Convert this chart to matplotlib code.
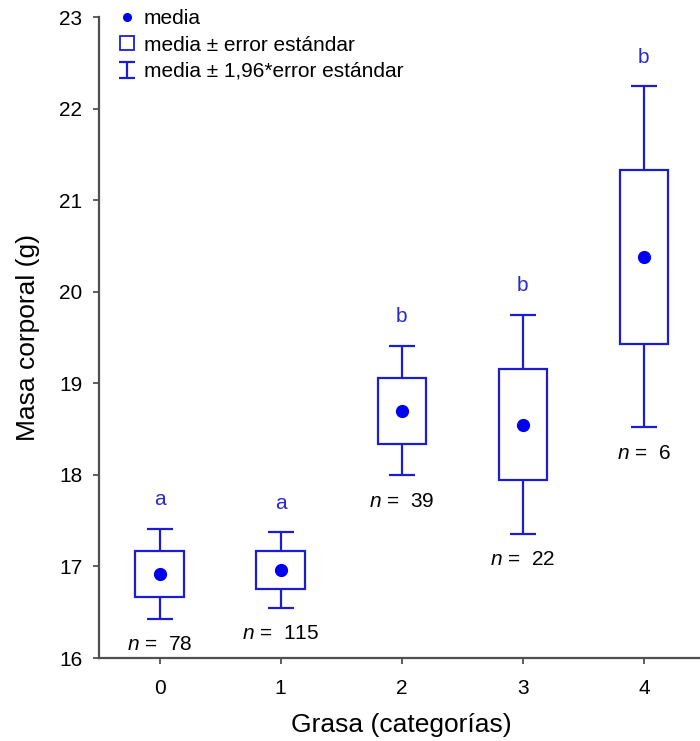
import matplotlib
matplotlib.use('Agg')
import matplotlib.pyplot as plt
import numpy as np
from matplotlib.lines import Line2D
from matplotlib.path import Path

# Datos
categorias = [0, 1, 2, 3, 4]
media = [16.92, 16.96, 18.70, 18.55, 20.38]
error_estandar = [0.25, 0.21, 0.36, 0.61, 0.95]
n_muestra = [78, 115, 39, 22, 6]
letras = ['a', 'a', 'b', 'b', 'b']
yticks = [16, 17, 18, 19, 20, 21, 22, 23]

plt.rcParams['font.family'] = ['Liberation Sans', 'DejaVu Sans']
plt.rcParams['mathtext.fontset'] = 'custom'
plt.rcParams['mathtext.it'] = 'Liberation Sans:italic'
plt.rcParams['mathtext.rm'] = 'Liberation Sans'

azul_linea = '#1c1cd2'
azul_punto = '#0000f0'
azul_letra = '#2a2ad0'
gris = '#505050'

x = np.array(categorias)
m = np.array(media)
ee = np.array(error_estandar)
ic = 1.96 * ee

fig = plt.figure(figsize=(7.0, 7.41), dpi=100)
ax = fig.add_axes([0.1414, 0.112, 0.865, 0.865])

# bigotes (media ± 1,96*EE)
ax.errorbar(x, m, yerr=ic, fmt='none', ecolor=azul_linea, elinewidth=1.6,
            capsize=9.4, capthick=1.6, zorder=2)
# cajas (media ± EE)
ax.bar(x, 2 * ee, bottom=m - ee, width=0.4, color='white',
       edgecolor=azul_linea, linewidth=1.6, zorder=3)
# medias
ax.plot(x, m, 'o', color=azul_punto, markersize=8.5, zorder=4, ls='none')

# letras y tamaños de muestra
for xi, mi, ci, let, nn in zip(x, m, ic, letras, n_muestra):
    ax.text(xi, mi + ci + 0.26, let, ha='center', va='baseline',
            fontsize=15, color=azul_letra)
    ax.text(xi, mi - ci - 0.28, f'$n$ =  {nn}', ha='center', va='center',
            fontsize=15, color='black')

ax.set_xlim(-0.5, 4.5)
ax.set_ylim(16, 23)
ax.set_xticks(categorias)
ax.set_yticks(yticks)
ax.spines['top'].set_visible(False)
ax.spines['right'].set_visible(False)
for s in ['left', 'bottom']:
    ax.spines[s].set_color(gris)
    ax.spines[s].set_linewidth(1.6)
ax.tick_params(axis='both', colors=gris, labelcolor='black', labelsize=15,
               width=1.3, length=4)
ax.tick_params(axis='x', pad=11)
ax.tick_params(axis='y', pad=8)

ax.set_xlabel('Grasa (categorías)', fontsize=19, labelpad=11)
ax.set_ylabel('Masa corporal (g)', fontsize=19, labelpad=14)

# leyenda
forma_i = Path([(-1, 1), (1, 1), (0, 1), (0, -1), (-1, -1), (1, -1)],
               [Path.MOVETO, Path.LINETO, Path.MOVETO, Path.LINETO,
                Path.MOVETO, Path.LINETO])
handles = [
    Line2D([], [], marker='o', ls='none', color=azul_punto, markersize=5.5),
    Line2D([], [], marker='s', ls='none', markerfacecolor='white',
           markeredgecolor=azul_linea, markeredgewidth=1.3, markersize=10),
    Line2D([], [], marker=forma_i, ls='none', markerfacecolor='none',
           markeredgecolor=azul_linea, markeredgewidth=1.6, markersize=11),
]
etiquetas = ['media', 'media ± error estándar', 'media ± 1,96*error estándar']
ax.legend(handles, etiquetas, loc='upper left', bbox_to_anchor=(0.029, 1.012),
          frameon=False, fontsize=15, handlelength=1.0, handletextpad=0.3,
          labelspacing=0.35, borderpad=0, borderaxespad=0)

fig.savefig('out.png', dpi=100)
